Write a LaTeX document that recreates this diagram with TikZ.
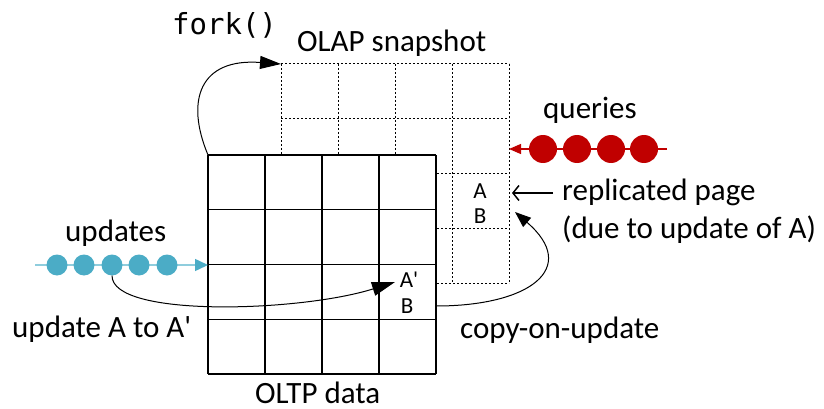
\documentclass[tikz,border=0pt]{standalone}
\usepackage{fontspec}
\setmainfont{Carlito}[Ligatures=TeXOff]
\newfontfamily\monofont{DejaVu Sans Mono}
\usetikzlibrary{arrows.meta}
\definecolor{qred}{HTML}{C00000}
\definecolor{ublue}{HTML}{4BACC6}
\definecolor{ublueline}{HTML}{8FCDDD}
\begin{document}
\begin{tikzpicture}[x=1pt,y=-1pt,
  lbl/.style={font=\fontsize{31}{36}\selectfont, inner sep=0pt, anchor=base west},
  cellt/.style={font=\fontsize{23}{26}\selectfont, inner sep=0pt, anchor=base},
  solidgrid/.style={line width=1.4pt, black},
  dashgrid/.style={line width=1pt, dash pattern=on 2.2pt off 1.8pt},
  conn/.style={line width=1pt, black},
  qdot/.style={circle, fill=qred, inner sep=0pt, minimum size=28pt},
  udot/.style={circle, fill=ublue, inner sep=0pt, minimum size=21pt}]
\useasboundingbox (0,0) rectangle (824,409);

% OLAP snapshot (dashed grid)
\foreach \i in {0,...,4} {
  \draw[dashgrid] (281+57*\i,64) -- (281+57*\i,283);
  \draw[dashgrid] (281,64+54.75*\i) -- (509,64+54.75*\i);
}
% OLTP data (solid grid)
\fill[white] (208,155) rectangle (436,374);
\foreach \i in {0,...,4} {
  \draw[solidgrid] (208+57*\i,155) -- (208+57*\i,374);
  \draw[solidgrid] (208,155+54.75*\i) -- (436,155+54.75*\i);
}

\coordinate (oltpTL) at (208,155);
\coordinate (olapTL) at (281,64);
\coordinate (aprimeTip) at (395,282);
\coordinate (copyStart) at (436,306);
\coordinate (copyTip) at (515,212);
\coordinate (replStart) at (553,193);
\coordinate (replTip) at (512,193);
\coordinate (qStart) at (667,149);
\coordinate (qTip) at (509,149);
\coordinate (uStart) at (35,265);
\coordinate (uTip) at (208,265);

% cell texts
\node[cellt] (a1) at (480,198) {A};
\node[cellt] (b1) at (480,223) {B};
\node[cellt] (a2) at (409,287) {A'};
\node[cellt] (b2) at (407,313) {B};

% labels
\node[inner sep=0pt, anchor=base west, font=\monofont\fontsize{29}{32}\selectfont] (fork) at (172,35) {fork()};
\node[lbl] (olapl) at (297,52) {OLAP snapshot};
\node[lbl] (ql) at (543,118) {queries};
\node[lbl] (repl) at (562,200) {replicated page};
\node[lbl] (due) at (562,238) {(due to update of A)};
\node[lbl] (copyl) at (460,338) {copy-on-update};
\node[lbl] (ul) at (65,241) {updates};
\node[lbl] (upal) at (12,337) {update A to A'};
\node[lbl] (oltpl) at (255,403) {OLTP data};

% queries
\draw[qred, line width=1.2pt, -{Triangle[length=12pt,width=10pt]}] (qStart) -- (qTip);
\node[qdot] (q1) at (543,149) {};
\node[qdot] (q2) at (577,149) {};
\node[qdot] (q3) at (611,149) {};
\node[qdot] (q4) at (644,149) {};

% updates
\draw[ublueline, line width=1.5pt, -{Triangle[length=13pt,width=12pt,color=ublue,fill=ublue]}] (uStart) -- (uTip);
\node[udot] (u1) at (57,265) {};
\node[udot] (u2) at (84,265) {};
\node[udot] (u3) at (112,265) {};
\node[udot] (u4) at (139,265) {};
\node[udot] (u5) at (167,265) {};

% connectors
\draw[conn, -{Triangle[length=21pt,width=13pt]}] (oltpTL) .. controls (185,100) and (200,58) .. (olapTL);
\draw[conn, -{Triangle[length=23pt,width=14pt]}] (u3.south) .. controls (112,318) and (300,312) .. (aprimeTip);
\draw[conn, -{Triangle[length=16pt,width=12pt]}] (copyStart) .. controls (530,306) and (580,268) .. (copyTip);
\draw[line width=1.5pt, -{Straight Barb[length=6pt,width=15pt]}] (replStart) -- (replTip);
\end{tikzpicture}
\end{document}
